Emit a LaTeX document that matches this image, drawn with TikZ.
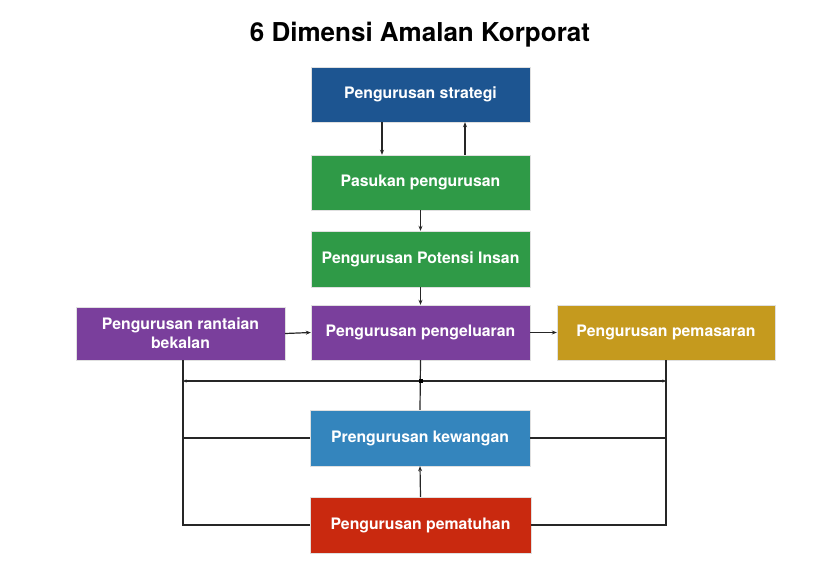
\documentclass[tikz,border=0pt]{standalone}
\usepackage{fontspec}
\setmainfont{TeX Gyre Heros}
\usetikzlibrary{arrows.meta}
\definecolor{cstrat}{HTML}{1D5591}
\definecolor{cgreen}{HTML}{2F9A47}
\definecolor{cpurple}{HTML}{7A3F9C}
\definecolor{cgold}{HTML}{C59A1E}
\definecolor{cfin}{HTML}{3485BD}
\definecolor{cred}{HTML}{C9290F}
\tikzset{
  box/.style={rectangle, minimum width=219pt, minimum height=55pt, inner sep=2pt,
    text=white, font=\fontsize{15.8}{19}\selectfont\bfseries, align=center,
    draw=black!12, line width=0.4pt},
  conn/.style={line width=1.2pt, black!85},
  arr/.style={conn, -{Stealth[length=5pt,width=4pt]}},
  tinyarr/.style={conn, -{Stealth[length=3.5pt,width=3pt]}},
}
\begin{document}
\begin{tikzpicture}[x=1pt,y=-1pt]
\useasboundingbox (0,0) rectangle (840,570);
\fill[white] (0,0) rectangle (840,570);
\node (title) at (420,35) {\fontsize{26}{30}\selectfont\bfseries 6 Dimensi Amalan Korporat};
\node[box, fill=cstrat] (strat) at (420.5,94.5) {Pengurusan strategi};
\node[box, fill=cgreen] (pasukan) at (420.5,182.5) {Pasukan pengurusan};
\node[box, fill=cgreen, minimum height=56pt] (insan) at (420.5,259) {Pengurusan Potensi Insan};
\node[box, fill=cpurple] (keluar) at (420.5,332.5) {Pengurusan pengeluaran};
\node[box, fill=cpurple, minimum width=209pt, minimum height=53pt] (rantai) at (180.5,333.5) {Pengurusan rantaian\\bekalan};
\node[box, fill=cgold, minimum width=218pt] (pasar) at (666,332.5) {Pengurusan pemasaran};
\node[box, fill=cfin, minimum width=220pt, minimum height=56pt] (wang) at (420,438) {Prengurusan kewangan};
\node[box, fill=cred, minimum width=221pt, minimum height=56pt] (patuh) at (420.5,525) {Pengurusan pematuhan};

\coordinate (bl) at (183,381);
\coordinate (bm) at (420.5,381);
\coordinate (br) at (666,381);

\draw[arr] ([xshift=-38.5pt]strat.south) -- ([xshift=-38.5pt]pasukan.north);
\draw[arr] ([xshift=44.5pt]pasukan.north) -- ([xshift=44.5pt]strat.south);
\draw[arr] (pasukan.south) -- (insan.north);
\draw[arr] (insan.south) -- (keluar.north);
\draw[arr] (rantai.east) -- (keluar.west);
\draw[arr] (keluar.east) -- (pasar.west);

\draw[conn] (bl |- rantai.south) -- (bl |- patuh.center) -- (patuh.west);
\draw[conn] (br |- pasar.south) -- (br |- patuh.center) -- (patuh.east);
\draw[conn] (wang.west) -- (bl |- wang.center);
\draw[conn] (wang.east) -- (br |- wang.center);
\draw[conn] (keluar.south) -- (wang.north);
\draw[tinyarr] (bm) -- (bl);
\draw[tinyarr] (bm) -- (br);
\fill[black] (bm) ++(-2,-2) rectangle ++(4,4);
\draw[arr] (patuh.north) -- (wang.south);
\end{tikzpicture}
\end{document}
